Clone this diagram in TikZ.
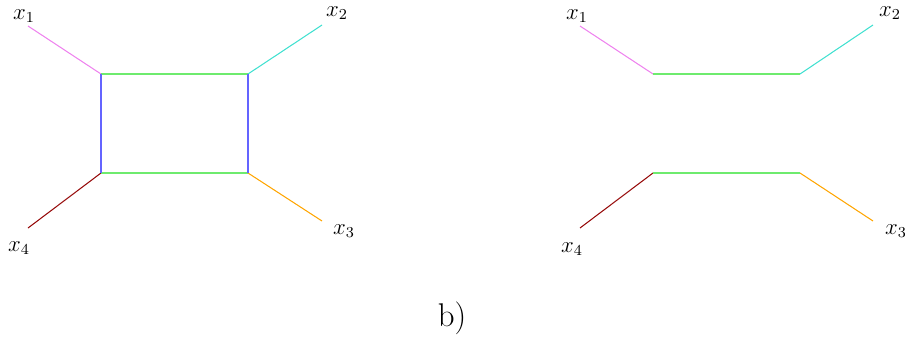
\documentclass[tikz,border=0pt]{standalone}
\definecolor{cviolet}{RGB}{238,130,238}
\definecolor{cturq}{RGB}{64,224,208}
\definecolor{cgreen}{RGB}{110,235,110}
\definecolor{cblue}{RGB}{100,100,255}
\definecolor{cdred}{RGB}{150,10,10}
\definecolor{corange}{RGB}{255,165,0}
\begin{document}
\begin{tikzpicture}[x=0.526pt,y=-0.526pt,
  leg/.style={line width=0.55pt},
  lab/.style={inner sep=0pt,font=\large}]
\useasboundingbox (0,0) rectangle (905,339);
% left diagram
\coordinate (a1) at (101,74);
\coordinate (a2) at (248,74);
\coordinate (a3) at (248,173);
\coordinate (a4) at (101,173);
\coordinate (e1) at (28,26);
\coordinate (e2) at (322,25);
\coordinate (e3) at (322,221);
\coordinate (e4) at (28,228);
\node[lab] (l1) at (24,16) {$x_1$};
\node[lab] (l2) at (337,13) {$x_2$};
\node[lab] (l3) at (344,231) {$x_3$};
\node[lab] (l4) at (19,248) {$x_4$};
\draw[leg,cviolet] (e1) -- (a1);
\draw[leg,cturq] (e2) -- (a2);
\draw[leg,corange] (e3) -- (a3);
\draw[leg,cdred] (e4) -- (a4);
\draw[leg,cgreen] (a1) -- (a2);
\draw[leg,cgreen] (a4) -- (a3);
\draw[leg,cblue] (a1) -- (a4);
\draw[leg,cblue] (a2) -- (a3);
% right diagram
\coordinate (b1) at (653,74);
\coordinate (b2) at (800,74);
\coordinate (b3) at (800,173);
\coordinate (b4) at (653,173);
\coordinate (f1) at (580,26);
\coordinate (f2) at (873,25);
\coordinate (f3) at (873,221);
\coordinate (f4) at (580,228);
\node[lab] (m1) at (577,16) {$x_1$};
\node[lab] (m2) at (890,13) {$x_2$};
\node[lab] (m3) at (896,231) {$x_3$};
\node[lab] (m4) at (572,249) {$x_4$};
\draw[leg,cviolet] (f1) -- (b1);
\draw[leg,cturq] (f2) -- (b2);
\draw[leg,corange] (f3) -- (b3);
\draw[leg,cdred] (f4) -- (b4);
\draw[leg,cgreen] (b1) -- (b2);
\draw[leg,cgreen] (b4) -- (b3);
\node[inner sep=0pt,font=\LARGE] (cap) at (452,318) {b)};
\end{tikzpicture}
\end{document}
